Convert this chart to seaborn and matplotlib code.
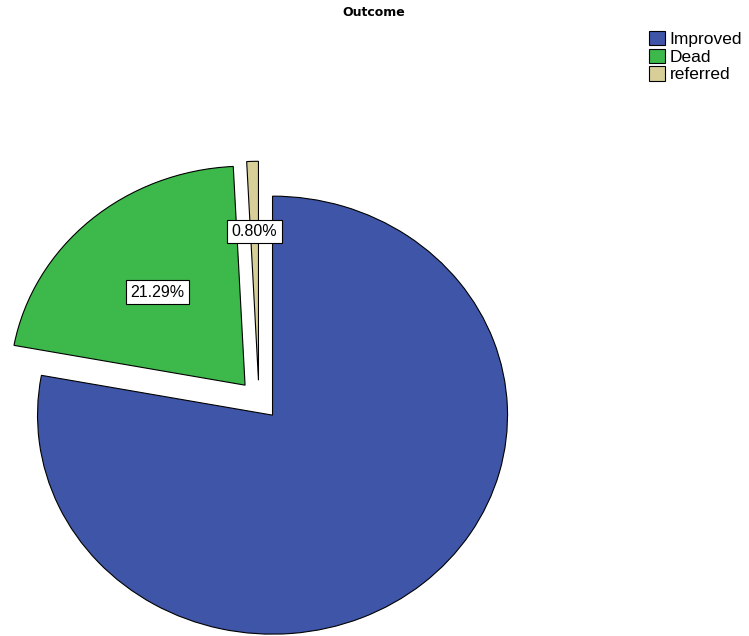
import numpy as np
import matplotlib
matplotlib.use("Agg")
import matplotlib.pyplot as plt
import seaborn as sns

categories = ["Improved", "Dead", "referred"]
percents = [77.91, 21.29, 0.80]
colors = ["#3E55A8", "#3DB84A", "#D7CF97"]
show_label = [False, True, True]
label_dist = [0.5, 0.565, 0.68]

sns.set_style("white")
plt.rcParams['font.family'] = ['Liberation Sans', 'DejaVu Sans']
plt.rcParams['text.color'] = 'black'

fig = plt.figure(figsize=(7.49, 6.36), dpi=100)
ax = fig.add_axes([0, 0, 1, 1])

wedges, _ = ax.pie(percents, colors=colors, startangle=90, counterclock=False,
                   explode=[0.09] * len(percents),
                   wedgeprops=dict(edgecolor="black", linewidth=0.8))
ax.set_aspect("auto")
ax.set_xlim(-259 / 235, (749 - 259) / 235)
ax.set_ylim(-236 / 219, (636 - 236) / 219)
ax.axis("off")

for w, pct, show, d in zip(wedges, percents, show_label, label_dist):
    if not show:
        continue
    ang = np.deg2rad((w.theta1 + w.theta2) / 2)
    cx, cy = w.center
    ax.text(cx + d * np.cos(ang), cy + d * np.sin(ang), f"{pct:.2f}%",
            ha="center", va="center", fontsize=11.5, color="black",
            bbox=dict(boxstyle="square,pad=0.27", facecolor="white", edgecolor="black", linewidth=0.8))

fig.text(374 / 749, 1 - 13 / 636, "Outcome", ha="center", va="center",
         fontsize=9, fontweight="bold", color="black", family="DejaVu Sans")

leg = fig.legend(wedges, categories, loc="upper left", bbox_to_anchor=(649 / 749, 1 - 31 / 636),
                 frameon=False, fontsize=12.5, handlelength=0.9, handleheight=0.9,
                 handletextpad=0.3, labelspacing=0.08, borderpad=0, borderaxespad=0)
for t in leg.get_texts():
    t.set_color("black")

fig.savefig("out.png", dpi=100, facecolor="white")
